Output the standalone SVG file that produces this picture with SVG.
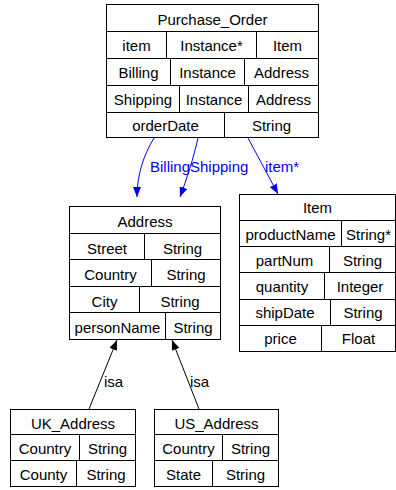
<svg xmlns="http://www.w3.org/2000/svg" width="396" height="490" viewBox="0 0 396 490">
<defs>
<marker id="ab" viewBox="0 0 10 8" refX="10" refY="4" markerWidth="10" markerHeight="8" markerUnits="userSpaceOnUse" orient="auto"><path d="M0,0 L10,4 L0,8 Z" fill="#0000ff"/></marker>
<marker id="ak" viewBox="0 0 10 8" refX="10" refY="4" markerWidth="10" markerHeight="8" markerUnits="userSpaceOnUse" orient="auto"><path d="M0,0 L10,4 L0,8 Z" fill="#000"/></marker>
</defs>
<style>
rect,line.c{fill:#fff;stroke:#000;stroke-width:1}
text{font-family:"Liberation Sans",Arial,sans-serif;font-size:15px;fill:#000;text-anchor:middle}
.e{fill:none;stroke:#0000ff;stroke-width:1}
.k{fill:none;stroke:#000;stroke-width:1}
text.bl{fill:#0000ff;text-anchor:start}
text.kl{text-anchor:start}
</style>
<g id="edges">
<path class="e" d="M154,138 C143,156 137,176 137,197" marker-end="url(#ab)"/>
<path class="e" d="M198,138 C193,160 187,178 180,197" marker-end="url(#ab)"/>
<path class="e" d="M248,138 L278,194" marker-end="url(#ab)"/>
<text class="bl" x="150" y="172">Billing</text>
<text class="bl" x="190" y="172">Shipping</text>
<text class="bl" x="265" y="172">item*</text>
<path class="k" d="M89,409 L117,340" marker-end="url(#ak)"/>
<path class="k" d="M199,409 L172,340" marker-end="url(#ak)"/>
<text class="kl" x="104" y="387">isa</text>
<text class="kl" x="190" y="387">isa</text>
</g>
<g id="Purchase_Order">
<rect x="106.5" y="4.5" width="212" height="133"/>
<line class="c" x1="106.5" y1="31.5" x2="318.5" y2="31.5"/>
<line class="c" x1="106.5" y1="58.5" x2="318.5" y2="58.5"/>
<line class="c" x1="106.5" y1="85.5" x2="318.5" y2="85.5"/>
<line class="c" x1="106.5" y1="112.5" x2="318.5" y2="112.5"/>
<line class="c" x1="166.5" y1="31.5" x2="166.5" y2="58.5"/>
<line class="c" x1="256.5" y1="31.5" x2="256.5" y2="58.5"/>
<line class="c" x1="170.5" y1="58.5" x2="170.5" y2="85.5"/>
<line class="c" x1="244.5" y1="58.5" x2="244.5" y2="85.5"/>
<line class="c" x1="179.5" y1="85.5" x2="179.5" y2="112.5"/>
<line class="c" x1="248.5" y1="85.5" x2="248.5" y2="112.5"/>
<line class="c" x1="224.5" y1="112.5" x2="224.5" y2="137.5"/>
<text x="212.5" y="25">Purchase_Order</text>
<text x="136.5" y="51">item</text>
<text x="211.5" y="51">Instance*</text>
<text x="287.5" y="51">Item</text>
<text x="138.5" y="78">Billing</text>
<text x="207.5" y="78">Instance</text>
<text x="281.5" y="78">Address</text>
<text x="143" y="105">Shipping</text>
<text x="214" y="105">Instance</text>
<text x="283.5" y="105">Address</text>
<text x="165.5" y="131">orderDate</text>
<text x="271.5" y="131">String</text>
</g>
<g id="Address">
<rect x="69.5" y="206.5" width="151" height="133"/>
<line class="c" x1="69.5" y1="233.5" x2="220.5" y2="233.5"/>
<line class="c" x1="69.5" y1="259.5" x2="220.5" y2="259.5"/>
<line class="c" x1="69.5" y1="286.5" x2="220.5" y2="286.5"/>
<line class="c" x1="69.5" y1="312.5" x2="220.5" y2="312.5"/>
<line class="c" x1="144.5" y1="233.5" x2="144.5" y2="259.5"/>
<line class="c" x1="151.5" y1="259.5" x2="151.5" y2="286.5"/>
<line class="c" x1="139.5" y1="286.5" x2="139.5" y2="312.5"/>
<line class="c" x1="165.5" y1="312.5" x2="165.5" y2="339.5"/>
<text x="145" y="227">Address</text>
<text x="107" y="254">Street</text>
<text x="182.5" y="254">String</text>
<text x="110.5" y="280">Country</text>
<text x="186" y="280">String</text>
<text x="104.5" y="307">City</text>
<text x="180" y="307">String</text>
<text x="117.5" y="333">personName</text>
<text x="193" y="333">String</text>
</g>
<g id="Item">
<rect x="239.5" y="194.5" width="156" height="157"/>
<line class="c" x1="239.5" y1="220.5" x2="395.5" y2="220.5"/>
<line class="c" x1="239.5" y1="246.5" x2="395.5" y2="246.5"/>
<line class="c" x1="239.5" y1="272.5" x2="395.5" y2="272.5"/>
<line class="c" x1="239.5" y1="299.5" x2="395.5" y2="299.5"/>
<line class="c" x1="239.5" y1="325.5" x2="395.5" y2="325.5"/>
<line class="c" x1="341.5" y1="220.5" x2="341.5" y2="246.5"/>
<line class="c" x1="329.5" y1="246.5" x2="329.5" y2="272.5"/>
<line class="c" x1="324.5" y1="272.5" x2="324.5" y2="299.5"/>
<line class="c" x1="330.5" y1="299.5" x2="330.5" y2="325.5"/>
<line class="c" x1="321.5" y1="325.5" x2="321.5" y2="351.5"/>
<text x="317.5" y="213">Item</text>
<text x="290.5" y="240">productName</text>
<text x="368.5" y="240">String*</text>
<text x="284.5" y="266">partNum</text>
<text x="362.5" y="266">String</text>
<text x="282" y="292">quantity</text>
<text x="360" y="292">Integer</text>
<text x="285" y="318">shipDate</text>
<text x="363" y="318">String</text>
<text x="280.5" y="344">price</text>
<text x="358.5" y="344">Float</text>
</g>
<g id="UK_Address">
<rect x="10.5" y="409.5" width="125" height="77"/>
<line class="c" x1="10.5" y1="434.5" x2="135.5" y2="434.5"/>
<line class="c" x1="10.5" y1="460.5" x2="135.5" y2="460.5"/>
<line class="c" x1="79.5" y1="434.5" x2="79.5" y2="460.5"/>
<line class="c" x1="76.5" y1="460.5" x2="76.5" y2="486.5"/>
<text x="73" y="429">UK_Address</text>
<text x="45" y="454">Country</text>
<text x="107.5" y="454">String</text>
<text x="43.5" y="480">County</text>
<text x="106" y="480">String</text>
</g>
<g id="US_Address">
<rect x="154.5" y="409.5" width="124" height="77"/>
<line class="c" x1="154.5" y1="434.5" x2="278.5" y2="434.5"/>
<line class="c" x1="154.5" y1="460.5" x2="278.5" y2="460.5"/>
<line class="c" x1="222.5" y1="434.5" x2="222.5" y2="460.5"/>
<line class="c" x1="212.5" y1="460.5" x2="212.5" y2="486.5"/>
<text x="216.5" y="429">US_Address</text>
<text x="188.5" y="454">Country</text>
<text x="250.5" y="454">String</text>
<text x="183.5" y="480">State</text>
<text x="245.5" y="480">String</text>
</g>
</svg>
